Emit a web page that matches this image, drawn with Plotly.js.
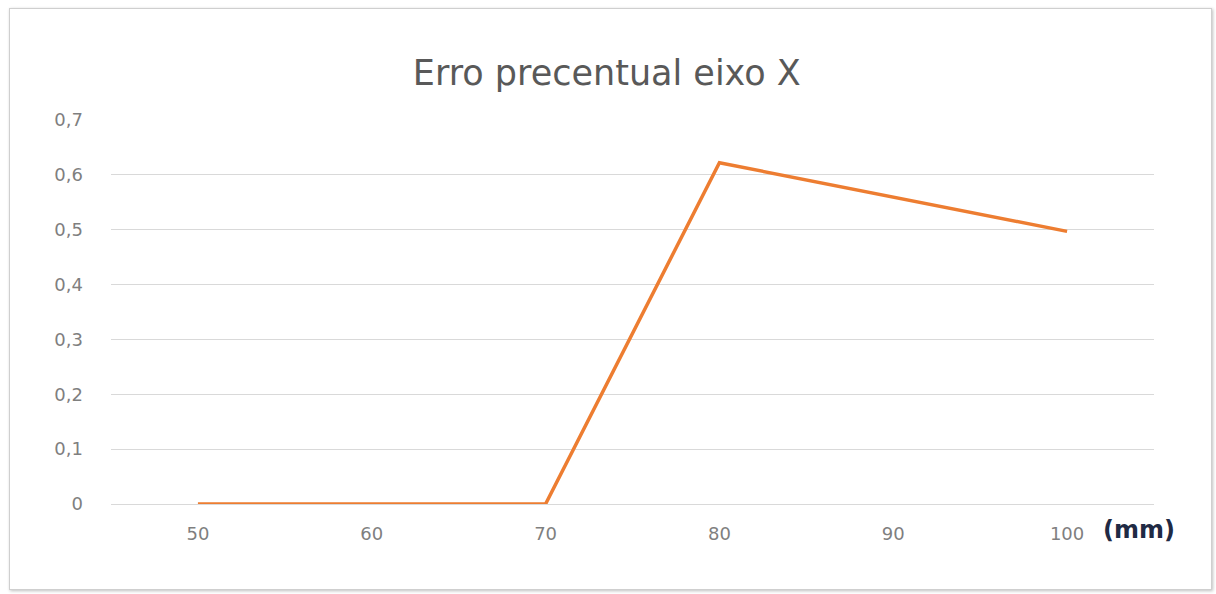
<!DOCTYPE html>
<html>
<head>
<meta charset="utf-8">
<script src="https://cdn.plot.ly/plotly-3.0.1.min.js"></script>
<style>
html,body{margin:0;padding:0;background:#fff;}
#chart{position:absolute;left:0;top:0;width:1216px;height:594px;}
#frame{position:absolute;left:9px;top:8px;width:1201px;height:580px;border:1px solid #cfcfcf;box-shadow:1px 1px 3px rgba(0,0,0,0.25);pointer-events:none;}
</style>
</head>
<body>
<div id="chart"></div>
<div id="frame"></div>
<script>
const categories = ["50", "60", "70", "80", "90", "100"];
const erro = [0, 0, 0, 0.622, 0.56, 0.497];
const yTicks = [0, 0.1, 0.2, 0.3, 0.4, 0.5, 0.6, 0.7];
const titleText = "Erro precentual eixo X";
const unitLabel = "(mm)";

const trace = {
  type: 'scatter',
  mode: 'lines',
  x: categories,
  y: erro,
  line: {color: '#ED7D31', width: 3.5},
  hoverinfo: 'x+y'
};

const layout = {
  width: 1216,
  height: 594,
  margin: {l: 111, r: 62, t: 120, b: 90},
  paper_bgcolor: 'rgba(0,0,0,0)',
  plot_bgcolor: 'rgba(0,0,0,0)',
  separators: ',.',
  showlegend: false,
  title: {
    text: titleText,
    x: 0.499, xanchor: 'center',
    y: 0.877, yanchor: 'middle',
    font: {family: 'DejaVu Sans, sans-serif', size: 35, color: '#595959'}
  },
  xaxis: {
    type: 'category',
    range: [-0.5, 5.5],
    showgrid: false,
    showline: true,
    linecolor: '#d9d9d9',
    linewidth: 1,
    zeroline: false,
    ticks: '',
    ticklabelstandoff: 13,
    tickfont: {family: 'DejaVu Sans, sans-serif', size: 18, color: '#7f7f7f'}
  },
  yaxis: {
    range: [0, 0.7],
    tickvals: yTicks,
    showgrid: true,
    gridcolor: '#d9d9d9',
    gridwidth: 1,
    zeroline: false,
    showline: false,
    ticks: '',
    ticklabelstandoff: 27,
    tickfont: {family: 'DejaVu Sans, sans-serif', size: 18, color: '#7f7f7f'}
  },
  annotations: [{
    text: '<b>' + unitLabel + '</b>',
    xref: 'paper', yref: 'paper',
    x: 1.0, y: 0, xanchor: 'left', yanchor: 'middle',
    yshift: -26, xshift: -53,
    showarrow: false,
    font: {family: 'DejaVu Sans, sans-serif', size: 24, color: '#1f2a44'}
  }]
};

Plotly.newPlot('chart', [trace], layout, {displayModeBar: false, staticPlot: true});
</script>
</body>
</html>
